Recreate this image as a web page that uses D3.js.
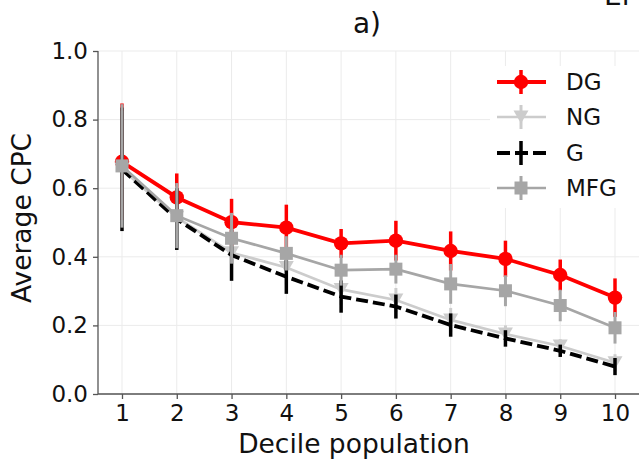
<!DOCTYPE html>
<html><head><meta charset="utf-8">
<script src="https://cdn.jsdelivr.net/npm/d3@7"></script>
<style>body{margin:0;background:#fff}svg{display:block;font-family:"DejaVu Sans",sans-serif}</style>
</head><body>
<svg id="c" width="639" height="466"></svg>
<script>
const deciles = [1,2,3,4,5,6,7,8,9,10];
const yTicks = [0.0,0.2,0.4,0.6,0.8,1.0];
const dg     = [0.677,0.573,0.501,0.485,0.439,0.447,0.417,0.394,0.347,0.281];
const dgErr  = [0.170,0.070,0.068,0.067,0.042,0.058,0.057,0.053,0.045,0.056];
const ng     = [0.655,0.515,0.412,0.369,0.305,0.274,0.216,0.175,0.140,0.091];
const ngErr  = [0.170,0.090,0.070,0.050,0.045,0.035,0.035,0.025,0.020,0.025];
const g      = [0.655,0.510,0.405,0.342,0.284,0.255,0.201,0.162,0.126,0.080];
const gErr   = [0.180,0.090,0.075,0.050,0.047,0.035,0.034,0.024,0.018,0.025];
const mfg    = [0.665,0.520,0.454,0.410,0.361,0.364,0.321,0.301,0.258,0.193];
const mfgErr = [0.180,0.095,0.074,0.050,0.045,0.042,0.058,0.045,0.046,0.046];
const seriesNames = ["DG","NG","G","MFG"];

const svg = d3.select("#c");
const x = d3.scaleLinear().domain([0.562,10.438]).range([98,639]);
const y = d3.scaleLinear().domain([0,1]).range([394,51]);

// grid
const grid = svg.append("g");
grid.selectAll(".gx").data(deciles).join("line")
  .attr("x1",d=>x(d)).attr("x2",d=>x(d)).attr("y1",y(0)).attr("y2",y(1))
  .attr("stroke","#ebebeb").attr("stroke-width",1);
grid.selectAll(".gy").data(yTicks).join("line")
  .attr("x1",98).attr("x2",639).attr("y1",d=>y(d)).attr("y2",d=>y(d))
  .attr("stroke","#ebebeb").attr("stroke-width",1);

// axes
const xAxis = svg.append("g").attr("transform",`translate(0,${y(0)})`)
  .call(d3.axisBottom(x).tickValues(deciles).tickFormat(d3.format("d")).tickSize(5).tickPadding(6));
const yAxis = svg.append("g").attr("transform",`translate(98,0)`)
  .call(d3.axisLeft(y).tickValues(yTicks).tickFormat(d3.format(".1f")).tickSize(5).tickPadding(5));
[xAxis,yAxis].forEach(a=>{
  a.select(".domain").attr("stroke","#555").attr("stroke-width",1.3);
  a.selectAll(".tick line").attr("stroke","#555").attr("stroke-width",1.3);
  a.selectAll(".tick text").attr("fill","#111").style("font-size","23px").style("font-family","DejaVu Sans");
});
xAxis.select(".domain").attr("d",`M98,0H639`);
yAxis.select(".domain").attr("d",`M0,${y(0)}V${y(1)}`);

const series = [
  {name:seriesNames[0], v:dg,  e:dgErr,  color:"#ff0000", lw:3.8, elw:3.5, marker:"circle", dash:null},
  {name:seriesNames[1], v:ng,  e:ngErr,  color:"#cccccc", lw:2.7, elw:3, marker:"tri", dash:null},
  {name:seriesNames[2], v:g,   e:gErr,   color:"#000000", lw:3.8, elw:3.5, marker:null, dash:"12,5"},
  {name:seriesNames[3], v:mfg, e:mfgErr, color:"#a6a6a6", lw:2.7, elw:3, marker:"square", dash:null}
];

const line = d3.line().x((d,i)=>x(deciles[i])).y(d=>y(d));
function drawMarker(sel, type, color){
  if(type==="circle") sel.append("circle").attr("r",7.2).attr("fill",color);
  else if(type==="square") sel.append("rect").attr("x",-6.5).attr("y",-6.5).attr("width",13).attr("height",13).attr("fill",color);
  else if(type==="tri") sel.append("path").attr("d","M-7.5,-6.5L7.5,-6.5L0,6.5Z").attr("fill",color);
}
series.forEach(s=>{
  const gS = svg.append("g");
  gS.selectAll(".eb").data(s.v).join("line")
    .attr("x1",(d,i)=>x(deciles[i])).attr("x2",(d,i)=>x(deciles[i]))
    .attr("y1",(d,i)=>y(d+s.e[i])).attr("y2",(d,i)=>y(d-s.e[i]))
    .attr("stroke",s.color).attr("stroke-width",s.elw);
  gS.append("path").attr("d",line(s.v)).attr("fill","none").attr("stroke",s.color)
    .attr("stroke-width",s.lw).attr("stroke-dasharray",s.dash);
  if(s.marker){
    s.v.forEach((d,i)=>{
      const m = gS.append("g").attr("transform",`translate(${x(deciles[i])},${y(d)})`);
      drawMarker(m,s.marker,s.color);
    });
  }
});

// legend
svg.append("rect").attr("x",490).attr("y",66).attr("width",149).attr("height",142).attr("fill","#fff");
const legY = [82,117,153,188];
series.forEach((s,k)=>{
  const lg = svg.append("g").attr("transform",`translate(0,${legY[k]})`);
  lg.append("line").attr("x1",497).attr("x2",546).attr("y1",0).attr("y2",0)
    .attr("stroke",s.color).attr("stroke-width",s.lw).attr("stroke-dasharray",s.dash?"13,5":null);
  lg.append("line").attr("x1",521).attr("x2",521).attr("y1",-12).attr("y2",12)
    .attr("stroke",s.color).attr("stroke-width",s.elw);
  if(s.marker){ const m = lg.append("g").attr("transform","translate(521,0)"); drawMarker(m,s.marker,s.color); }
  lg.append("text").attr("x",566).attr("y",8).text(s.name).style("font-size","23px").attr("fill","#111");
});

// labels
svg.append("text").attr("x",367).attr("y",33).attr("text-anchor","middle").style("font-size","28px").attr("fill","#111").text("a)");
svg.append("text").attr("x",354).attr("y",453).attr("text-anchor","middle").style("font-size","26.5px").attr("fill","#111").text("Decile population");
svg.append("text").attr("transform","translate(31,218) rotate(-90)").attr("text-anchor","middle").style("font-size","26.5px").attr("fill","#111").text("Average CPC");
svg.append("text").attr("x",604).attr("y",5).style("font-size","28px").attr("fill","#111").text("El");
</script>
</body></html>
